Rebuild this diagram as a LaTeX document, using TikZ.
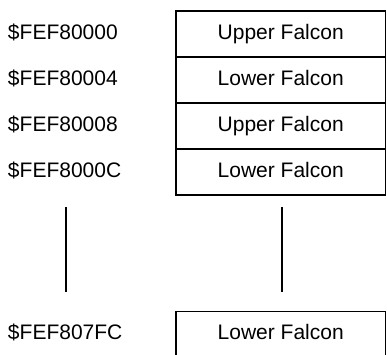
\documentclass[tikz,border=0pt]{standalone}
\usepackage{fontspec}
\setmainfont{Liberation Sans}
\usetikzlibrary{positioning}

\begin{document}
\begin{tikzpicture}[x=1pt,y=-1pt]
\tikzstyle{cell}=[rectangle,draw=black,line width=1.3pt, node distance = 46pt,
inner sep=0pt,outer sep=0pt,minimum width=209.5pt,minimum height=46pt,
text height=15.1pt,text depth=4.5pt,font=\fontsize{21}{25}\selectfont]
\tikzstyle{addr}=[inner sep=0pt,outer sep=0pt,anchor=west,
text height=15.1pt,text depth=4.5pt,font=\fontsize{21}{25}\selectfont]
\useasboundingbox (0,0) rectangle (387,354);
\node[cell] at (280.75,34) (0) {Upper Falcon};
\node[cell,below of =0,](1) {Lower Falcon} ;
\node[cell,below of =1,](2) {Upper Falcon} ;
\node[cell,below of =2,](3) {Lower Falcon} ;
\node[cell,draw=none] at (280.75,334.5) (4) {Lower Falcon} ;

\node[addr] at (8,34) (a0) {\$FEF80000};
\node[addr] at (8,80) (a1) {\$FEF80004};
\node[addr] at (8,126) (a2) {\$FEF80008};
\node[addr] at (8,172) (a3) {\$FEF8000C};
\node[addr] at (8,334.5) (a4) {\$FEF807FC};

\coordinate (l1) at (66,207.3);
\coordinate (l2) at (66,292.3);
\coordinate (r1) at (282,207.3);
\coordinate (r2) at (282,292.3);

\draw[line width=1.5pt] (l1) -- (l2) ;
\draw[line width=1.5pt] (r1) -- (r2) ;
\draw[line width=1.3pt] (4.south west) -- (4.north west) -- (4.north east) -- (4.south east) ;

\end{tikzpicture}
\end{document}
